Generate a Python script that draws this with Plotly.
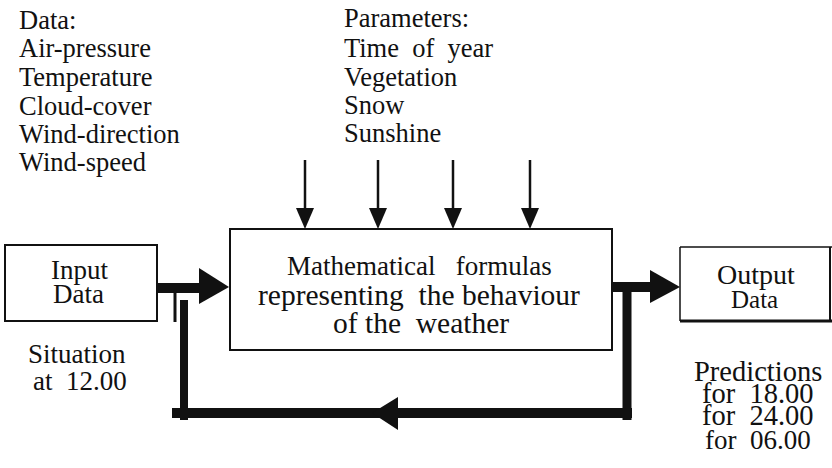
import plotly.graph_objects as go

# ---- content (text of the diagram) ----
data_title = "Data:"
data_items = ["Air-pressure", "Temperature", "Cloud-cover", "Wind-direction", "Wind-speed"]
param_title = "Parameters:"
param_items = ["Time&nbsp;&nbsp;of&nbsp;&nbsp;year", "Vegetation", "Snow", "Sunshine"]
input_label = ["Input", "Data"]
model_label = ["Mathematical&nbsp;&nbsp;&nbsp;formulas", "representing&nbsp;&nbsp;the behaviour", "of the&nbsp;&nbsp;weather"]
output_label = ["Output", "Data"]
situation_label = ["Situation", "at&nbsp;&nbsp;12.00"]
prediction_label = ["Predictions", "for&nbsp;&nbsp;18.00", "for&nbsp;&nbsp;24.00", "for&nbsp;&nbsp;06.00"]

FONT = "Liberation Serif, Times New Roman, serif"
BLACK = "#111111"

fig = go.Figure()
shapes = []
annotations = []


def line(x0, y0, x1, y1, w):
    shapes.append(dict(type="line", x0=x0, y0=y0, x1=x1, y1=y1,
                       line=dict(color=BLACK, width=w), layer="above"))


def rect(x0, y0, x1, y1, w):
    shapes.append(dict(type="rect", x0=x0, y0=y0, x1=x1, y1=y1,
                       line=dict(color=BLACK, width=w), fillcolor="rgba(0,0,0,0)"))


def tri(pts):
    p = "M " + " L ".join(f"{x},{y}" for x, y in pts) + " Z"
    shapes.append(dict(type="path", path=p, fillcolor=BLACK, line=dict(width=0), layer="above"))


def text(x, y, s, size, anchor="left", color=BLACK):
    annotations.append(dict(x=x, y=y, text=s, showarrow=False, xanchor=anchor, yanchor="middle",
                            font=dict(family=FONT, size=size, color=color)))


# ---- boxes ----
rect(5, 245, 157, 321, 2)          # input box
rect(230, 229, 612, 350, 2)        # model box
line(680, 247, 832, 247, 1.5)      # output box top
line(680, 247, 680, 321, 1.5)      # output box left
line(680, 321, 832, 321, 3)        # output box bottom
line(830, 247, 830, 321, 2)        # output box right

# ---- input arrow ----
line(157, 288, 205, 288, 10)
tri([(199, 268), (229, 287), (199, 304)])
line(175, 290, 175, 322, 3)

# ---- output arrow ----
line(612, 287, 655, 287, 10)
tri([(650, 270), (680, 287), (650, 303)])

# ---- feedback loop ----
line(627, 287, 627, 420, 9)
line(184, 300, 184, 420, 8)
line(172, 413, 632, 413, 10)
tri([(398, 397), (372, 413), (398, 430)])

# ---- parameter arrows ----
for ax in [305, 378, 453, 530]:
    line(ax, 160, ax, 212, 2.5)
    tri([(ax - 9, 208), (ax + 9, 208), (ax, 229)])

# ---- text ----
FS = 26.5
left_rows = [20, 48, 77, 106, 134, 162]
for y, s in zip(left_rows, [data_title] + data_items):
    text(17, y, s, FS)

param_rows = [18, 48, 77, 105, 133]
for y, s in zip(param_rows, [param_title] + param_items):
    text(342, y, s, FS)

text(79, 270, input_label[0], 27, "center")
text(78, 294, input_label[1], 27, "center")

text(419, 266, model_label[0], 27, "center")
text(419, 295, model_label[1], 29.5, "center")
text(421, 323, model_label[2], 29.5, "center")

text(756, 274, output_label[0], 28, "center")
text(754, 299, output_label[1], 25, "center")

text(77, 354, situation_label[0], 27, "center")
text(80, 381, situation_label[1], 27, "center")

pred_rows = [371, 393, 415, 440]
for y, s, sz in zip(pred_rows, prediction_label, [28.5, 28.5, 28.5, 27]):
    text(758, y, s, sz, "center")

fig.update_layout(
    width=832, height=468,
    margin=dict(l=0, r=0, t=0, b=0),
    paper_bgcolor="white", plot_bgcolor="white",
    xaxis=dict(range=[0, 832], visible=False, fixedrange=True),
    yaxis=dict(range=[468, 0], visible=False, fixedrange=True),
    shapes=shapes, annotations=annotations, showlegend=False,
)

fig.write_html("out.html", config={"displayModeBar": False},
               post_script="document.body.style.margin='0';document.body.style.overflow='hidden';")
